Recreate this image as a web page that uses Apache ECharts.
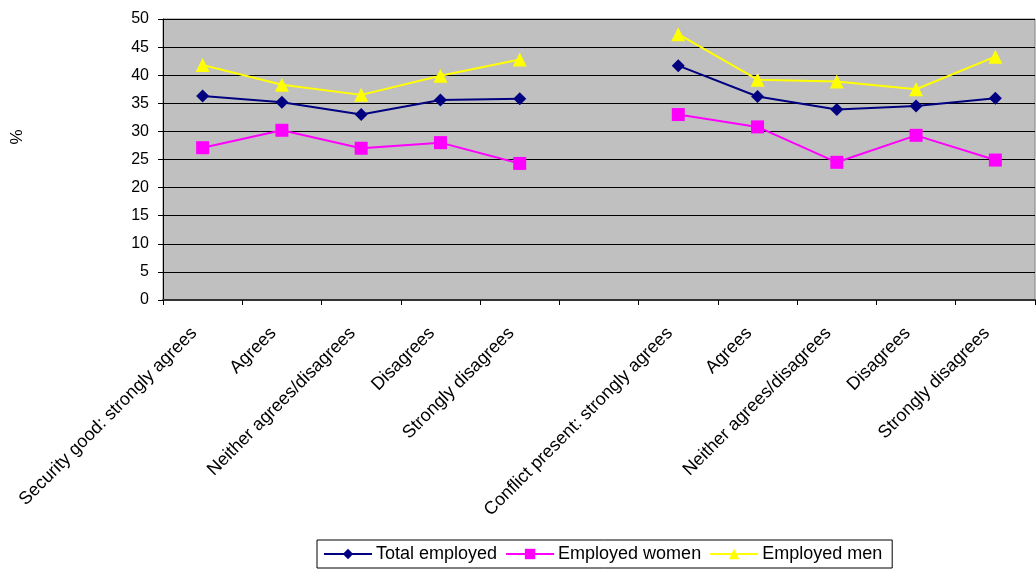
<!DOCTYPE html>
<html>
<head>
<meta charset="utf-8">
<script src="https://cdn.jsdelivr.net/npm/echarts@6/dist/echarts.min.js"></script>
<style>
html,body{margin:0;padding:0;background:#fff;}
#chart{width:1036px;height:573px;}
</style>
</head>
<body>
<div id="chart"></div>
<script>
const categories = [
  'Security good: strongly agrees', 'Agrees', 'Neither agrees/disagrees', 'Disagrees', 'Strongly disagrees',
  '',
  'Conflict present: strongly agrees', 'Agrees', 'Neither agrees/disagrees', 'Disagrees', 'Strongly disagrees'
];
const totalEmployed = [36.3, 35.2, 33.0, 35.6, 35.8, null, 41.7, 36.2, 33.9, 34.5, 35.9];
const employedWomen = [27.1, 30.2, 27.0, 28.0, 24.3, null, 33.0, 30.8, 24.5, 29.3, 24.9];
const employedMen = [41.8, 38.3, 36.5, 39.9, 42.8, null, 47.3, 39.2, 38.9, 37.5, 43.3];
const yTicks = { min: 0, max: 50, interval: 5 };
const yName = '%';

const chart = echarts.init(document.getElementById('chart'), null, { renderer: 'canvas' });
const font = 'Arial, "Liberation Sans", sans-serif';
chart.setOption({
  animation: false,
  backgroundColor: '#ffffff',
  grid: {
    left: 163, right: 1, top: 19, bottom: 273,
    show: true, backgroundColor: '#C0C0C0', borderColor: '#808080', borderWidth: 1
  },
  graphic: [{
    type: 'text', x: 17, y: 137, rotation: Math.PI / 2,
    style: { text: yName, fill: '#000', font: '17px ' + font, textAlign: 'center', textVerticalAlign: 'middle' }
  }],
  legend: {
    left: 317, top: 540,
    itemWidth: 48, itemHeight: 13, itemGap: 8,
    padding: [5, 10, 5, 6],
    borderColor: '#000', borderWidth: 1, backgroundColor: '#fff',
    textStyle: { fontFamily: font, fontSize: 18, color: '#000', padding: [0, 0, 0, -1] },
    data: ['Total employed', 'Employed women', 'Employed men']
  },
  xAxis: {
    type: 'category', data: categories, boundaryGap: true,
    axisLine: { lineStyle: { color: '#333', width: 2 } },
    axisTick: { show: true, length: 5, lineStyle: { color: '#000' }, interval: 0 },
    axisLabel: { interval: 0, rotate: 45, margin: 22, padding: [0, 12, 0, 0], fontFamily: font, fontSize: 18, color: '#000' },
    splitLine: { show: false }
  },
  yAxis: {
    type: 'value', min: yTicks.min, max: yTicks.max, interval: yTicks.interval,
    axisLine: { show: true, lineStyle: { color: '#000', width: 1 } },
    axisTick: { show: true, length: 5, inside: false, lineStyle: { color: '#000' } },
    axisLabel: { fontFamily: font, fontSize: 16, color: '#000', margin: 14 },
    splitLine: { show: true, lineStyle: { color: '#000', width: 1 } }
  },
  series: [
    {
      name: 'Total employed', type: 'line', data: totalEmployed, connectNulls: false,
      symbol: 'diamond', symbolSize: 13, showAllSymbol: true,
      lineStyle: { color: '#000080', width: 2 }, itemStyle: { color: '#000080' }
    },
    {
      name: 'Employed women', type: 'line', data: employedWomen, connectNulls: false,
      symbol: 'rect', symbolSize: 13, showAllSymbol: true,
      lineStyle: { color: '#FF00FF', width: 2 }, itemStyle: { color: '#FF00FF' }
    },
    {
      name: 'Employed men', type: 'line', data: employedMen, connectNulls: false,
      symbol: 'triangle', symbolSize: 14, showAllSymbol: true,
      lineStyle: { color: '#FFFF00', width: 2 }, itemStyle: { color: '#FFFF00' }
    }
  ]
});
</script>
</body>
</html>
